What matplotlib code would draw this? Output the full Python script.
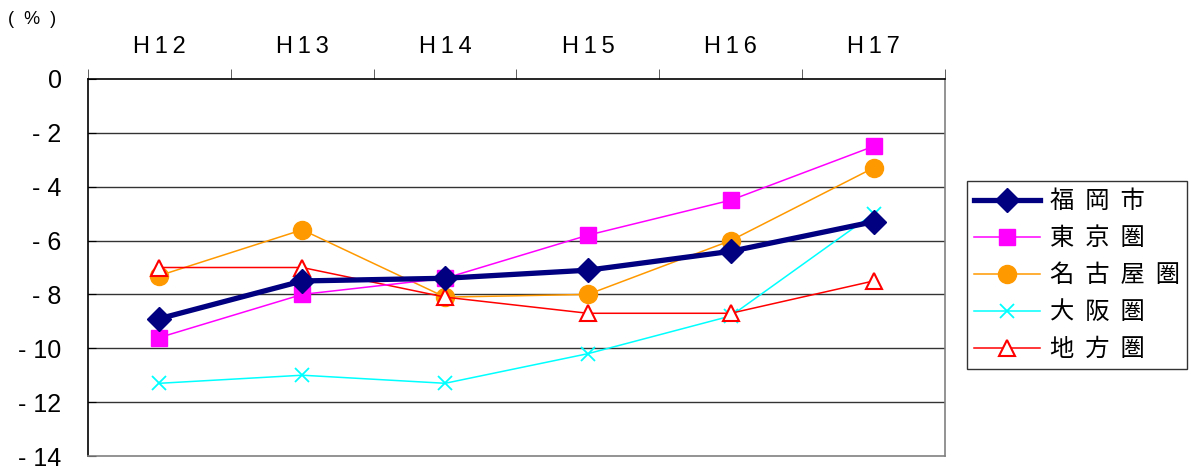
import matplotlib
matplotlib.use('Agg')
import matplotlib.pyplot as plt
import numpy as np

plt.rcParams['font.family'] = ['Liberation Sans', 'Noto Sans CJK JP', 'DejaVu Sans']

# 年度と各圏域の変化率（%）
years = ['H12', 'H13', 'H14', 'H15', 'H16', 'H17']
fukuoka = [-8.9, -7.5, -7.4, -7.1, -6.4, -5.3]
tokyo = [-9.6, -8.0, -7.4, -5.8, -4.5, -2.5]
nagoya = [-7.3, -5.6, -8.1, -8.0, -6.0, -3.3]
osaka = [-11.3, -11.0, -11.3, -10.2, -8.8, -5.0]
chiho = [-7.0, -7.0, -8.1, -8.7, -8.7, -7.5]
names = ['福岡市', '東京圏', '名古屋圏', '大阪圏', '地方圏']
yticks = [0, -2, -4, -6, -8, -10, -12, -14]


def spaced(s, sep):
    return sep.join(list(s))


fig = plt.figure(figsize=(11.92, 4.70), dpi=100)
ax = fig.add_axes([88 / 1192, 1 - 456 / 470, (945 - 88) / 1192, (456 - 79) / 470])

labels = [spaced(n, '  ') for n in names]
x = np.arange(len(years))
ax.plot(x, fukuoka, color='#000080', lw=3.8, marker='D', ms=12, zorder=6, label=labels[0])
ax.plot(x, tokyo, color='#ff00ff', lw=1.1, marker='s', ms=12, zorder=5, label=labels[1])
ax.plot(x, nagoya, color='#ff9900', lw=1.1, marker='o', ms=13, zorder=4, label=labels[2])
ax.plot(x, osaka, color='#00ffff', lw=1.1, marker='x', ms=10, mew=1.3, zorder=3, label=labels[3])
ax.plot(x, chiho, color='#ff0000', lw=1.1, marker='^', ms=12, mfc='white', mew=1.5,
        zorder=4, label=labels[4])

ax.set_xlim(-0.5, 5.5)
ax.set_ylim(-14, 0)

# x軸は上側（0の線）に表示
ax.xaxis.tick_top()
ax.set_xticks(x)
ax.set_xticklabels([spaced(y, '\u2009') for y in years], fontsize=17)
ax.set_xticks(np.arange(-0.5, 6, 1), minor=True)
ax.tick_params(axis='x', which='major', length=0, pad=15)
ax.tick_params(axis='x', which='minor', length=7, direction='out', color='#444444')

ax.set_yticks(yticks)
ax.set_yticklabels(['0'] + ['- %d' % -v for v in yticks[1:]], fontsize=18)
ax.tick_params(axis='y', length=6, direction='in', pad=19)

for v in yticks[1:-1]:
    ax.axhline(v, color='#333333', lw=1, zorder=1)

ax.spines['left'].set_color('black')
ax.spines['top'].set_color('black')
ax.spines['bottom'].set_color('#808080')
ax.spines['right'].set_color('#808080')
for s in ax.spines.values():
    s.set_linewidth(1.2)

fig.text(8 / 1192, 1 - 20 / 470, '(  %  )', fontsize=13, va='center', ha='left')

leg = fig.legend(loc='upper left', bbox_to_anchor=(967 / 1192, 1 - 181 / 470),
                 frameon=True, fancybox=False, handlelength=2.7, borderaxespad=0,
                 labelspacing=0.45, borderpad=0.3, handletextpad=0.4,
                 prop={'family': ['Noto Sans CJK JP', 'DejaVu Sans'], 'size': 17.5})
leg.get_frame().set_edgecolor('black')
leg.get_frame().set_linewidth(1.0)

fig.savefig('out.png', dpi=100)
